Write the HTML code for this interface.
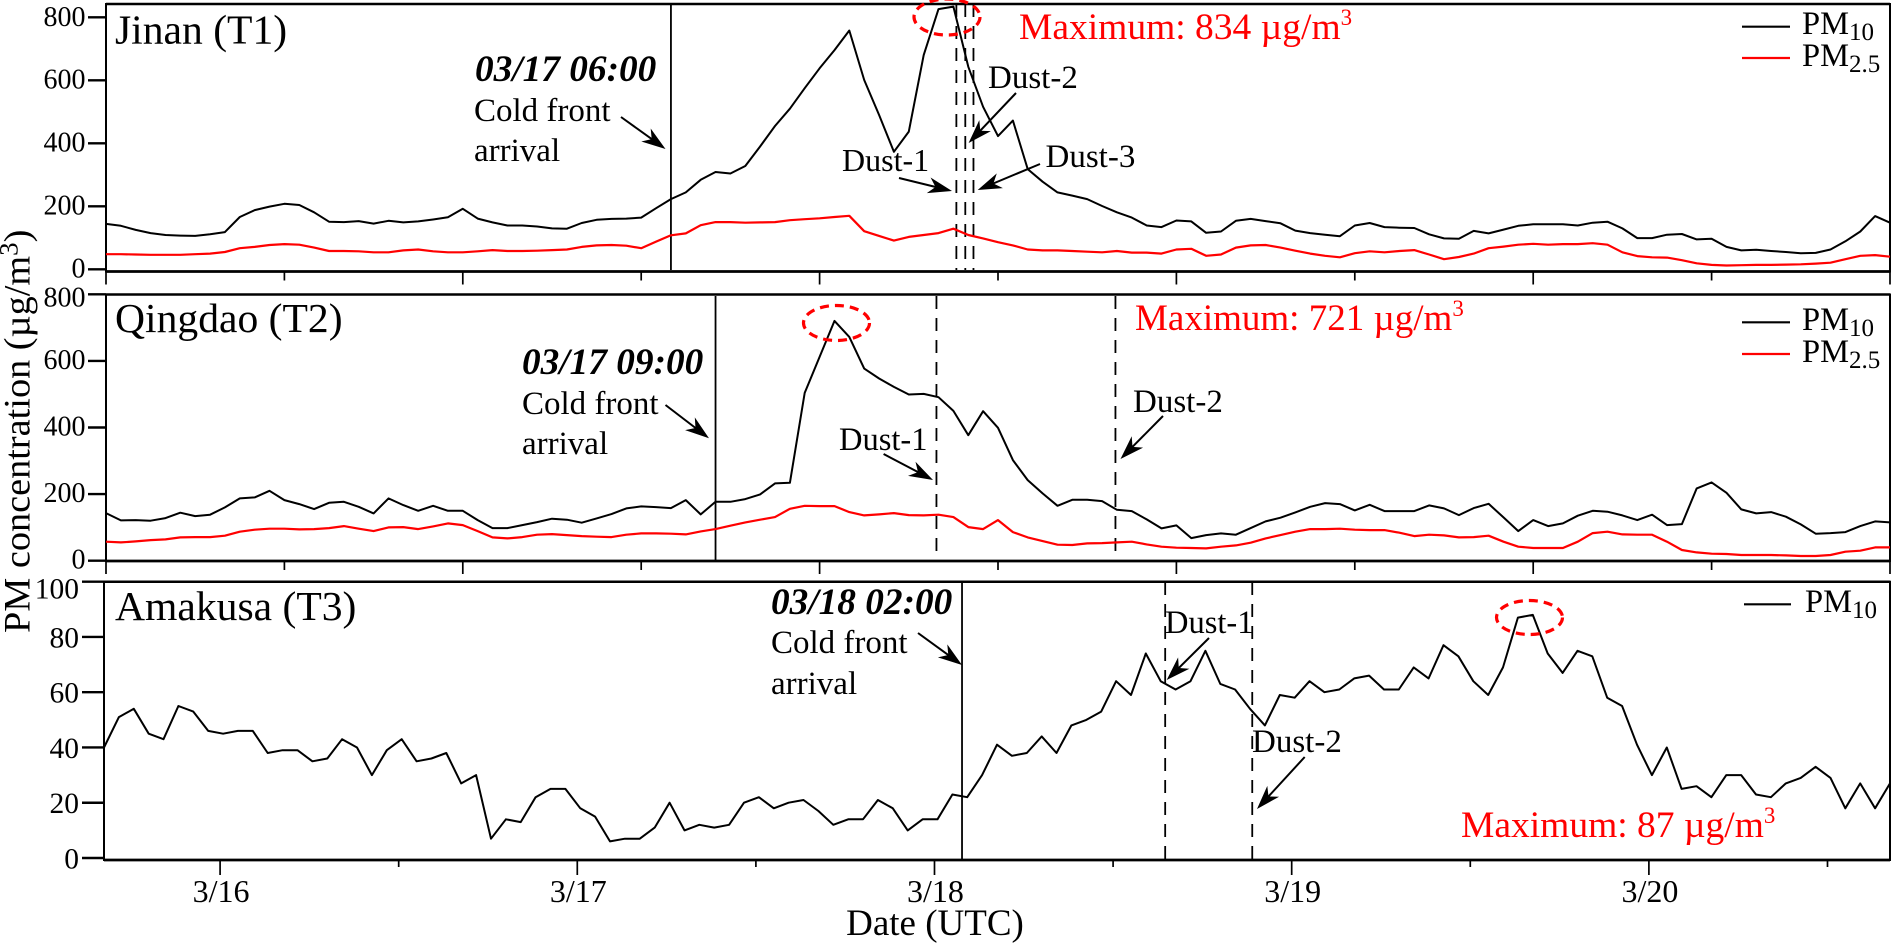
<!DOCTYPE html>
<html lang="en">
<head>
<meta charset="utf-8">
<title>PM concentration at Jinan, Qingdao and Amakusa</title>
<style>
html,body{margin:0;padding:0;background:#fff;}
svg{display:block;font-family:"Liberation Serif",serif;}
text{fill:#000;}
.red{fill:#f00;}
</style>
</head>
<body>
<svg id="chart" xmlns="http://www.w3.org/2000/svg" width="1893" height="945" viewBox="0 0 1893 945">
  <g id="axes-layer"></g>
  <g id="events-layer"></g>
  <path id="jinan-pm10" fill="none" stroke="#000" stroke-width="2" stroke-linejoin="round"/>
  <path id="jinan-pm25" fill="none" stroke="#f00" stroke-width="2.2" stroke-linejoin="round"/>
  <path id="qingdao-pm10" fill="none" stroke="#000" stroke-width="2" stroke-linejoin="round"/>
  <path id="qingdao-pm25" fill="none" stroke="#f00" stroke-width="2.2" stroke-linejoin="round"/>
  <path id="amakusa-pm10" fill="none" stroke="#000" stroke-width="2" stroke-linejoin="round"/>

  <!-- Panel titles -->
  <text x="115" y="43.5" font-size="41.6">Jinan (T1)</text>
  <text x="115" y="332" font-size="41.6">Qingdao (T2)</text>
  <text x="115" y="620" font-size="41.6">Amakusa (T3)</text>

  <!-- Cold front annotations -->
  <text x="475" y="81" font-size="37.3" font-weight="bold" font-style="italic">03/17 06:00</text>
  <text x="474" y="121" font-size="33">Cold front</text>
  <text x="474" y="161" font-size="33">arrival</text>
  <text x="522" y="374" font-size="37.3" font-weight="bold" font-style="italic">03/17 09:00</text>
  <text x="522" y="414" font-size="33">Cold front</text>
  <text x="522" y="454" font-size="33">arrival</text>
  <text x="771" y="614" font-size="37.3" font-weight="bold" font-style="italic">03/18 02:00</text>
  <text x="771" y="653" font-size="33">Cold front</text>
  <text x="771" y="694" font-size="33">arrival</text>

  <!-- Dust labels -->
  <text x="842" y="171" font-size="32">Dust-1</text>
  <text x="988" y="88" font-size="33">Dust-2</text>
  <text x="1045.5" y="167" font-size="33">Dust-3</text>
  <text x="839" y="450" font-size="32.5">Dust-1</text>
  <text x="1133" y="412" font-size="33">Dust-2</text>
  <text x="1165" y="633" font-size="32.5">Dust-1</text>
  <text x="1252" y="752" font-size="33">Dust-2</text>

  <!-- Maximum labels -->
  <text class="red" x="1019" y="39" font-size="37.5">Maximum: 834 µg/m<tspan font-size="23" dy="-14">3</tspan></text>
  <text class="red" x="1135" y="330" font-size="37">Maximum: 721 µg/m<tspan font-size="23" dy="-14">3</tspan></text>
  <text class="red" x="1461" y="837" font-size="37.5">Maximum: 87 µg/m<tspan font-size="23" dy="-14">3</tspan></text>

  <!-- Peak ellipses -->
  <ellipse cx="947" cy="17" rx="33" ry="18" fill="none" stroke="#f00" stroke-width="3.2" stroke-dasharray="9 6"/>
  <ellipse cx="836.5" cy="323" rx="33" ry="17.5" fill="none" stroke="#f00" stroke-width="3.2" stroke-dasharray="9 6"/>
  <ellipse cx="1529.5" cy="617.5" rx="33" ry="17" fill="none" stroke="#f00" stroke-width="3.2" stroke-dasharray="9 6"/>

  <!-- Legends -->
  <g>
    <line x1="1742" y1="26.7" x2="1790" y2="26.7" stroke="#000" stroke-width="2.2"/>
    <text x="1802" y="34" font-size="32.5">PM<tspan font-size="25" dy="6">10</tspan></text>
    <line x1="1742" y1="58" x2="1790" y2="58" stroke="#f00" stroke-width="2.2"/>
    <text x="1802" y="66" font-size="32.5">PM<tspan font-size="25" dy="6">2.5</tspan></text>
  </g>
  <g>
    <line x1="1742" y1="322.3" x2="1790" y2="322.3" stroke="#000" stroke-width="2.2"/>
    <text x="1802" y="330" font-size="32.5">PM<tspan font-size="25" dy="6">10</tspan></text>
    <line x1="1742" y1="354" x2="1790" y2="354" stroke="#f00" stroke-width="2.2"/>
    <text x="1802" y="362" font-size="32.5">PM<tspan font-size="25" dy="6">2.5</tspan></text>
  </g>
  <g>
    <line x1="1744" y1="604.3" x2="1791" y2="604.3" stroke="#000" stroke-width="2.2"/>
    <text x="1805" y="612" font-size="32.5">PM<tspan font-size="25" dy="6">10</tspan></text>
  </g>

  <!-- Axis titles -->
  <text transform="translate(29.5,633) rotate(-90) scale(1.035,1)" font-size="37">PM concentration (µg/m<tspan font-size="26" dy="-12">3</tspan><tspan dy="12">)</tspan></text>
  <text x="935" y="935" font-size="37" text-anchor="middle">Date (UTC)</text>

  <g id="arrows-layer"></g>
</svg>

<script>
const jinanPm10 = [144,138,125,115,109,107,106,111,118,166,188,199,208,204,181,151,150,153,145,154,149,152,158,165,192,161,149,139,139,136,130,129,147,157,160,161,164,194,223,244,284,309,304,328,390,455,510,575,638,696,758,601,490,373,437,680,826,834,643,516,423,472,318,278,244,234,223,201,181,164,139,134,155,152,116,120,154,160,153,146,123,115,110,105,139,147,134,132,131,111,98,97,122,114,126,138,143,143,143,139,148,151,130,99,99,110,112,95,97,71,60,62,58,55,51,52,63,89,120,169,148];
const jinanPm25 = [48,48,47,46,46,46,48,50,55,67,71,77,80,78,69,58,58,57,54,54,60,63,57,54,54,57,61,58,58,59,61,63,71,76,77,75,67,88,108,114,140,150,150,148,149,150,156,159,162,166,170,121,106,91,103,109,115,129,109,98,86,76,63,60,60,58,56,54,58,53,53,50,63,65,43,47,69,76,77,69,59,50,43,38,51,57,54,58,61,47,32,39,50,67,72,78,81,78,80,80,83,78,54,42,38,37,29,19,14,12,13,14,14,15,16,18,21,32,43,45,40];
const qingdaoPm10 = [143,121,122,120,128,144,134,138,160,187,190,210,182,170,155,174,177,162,142,187,167,150,165,150,150,122,98,98,107,116,126,123,114,127,140,157,163,161,158,182,139,177,177,185,199,232,234,504,612,720,672,577,547,522,499,501,491,450,377,449,399,302,242,202,165,183,183,179,153,149,124,97,106,68,77,82,78,98,118,129,145,162,173,170,151,168,149,149,149,166,157,137,158,171,130,89,122,104,112,135,150,147,136,122,138,107,110,217,235,204,154,142,146,132,109,81,83,86,104,118,115];
const qingdaoPm25 = [57,55,58,62,64,70,71,71,75,87,93,96,96,94,95,98,104,96,89,100,101,95,103,112,107,89,70,67,71,78,80,77,74,72,71,78,82,82,81,79,88,95,105,115,123,131,156,165,164,164,146,136,139,143,137,136,138,131,101,95,122,86,70,59,48,47,52,53,55,57,49,42,39,38,37,42,46,54,67,77,87,95,95,96,93,92,92,84,74,78,76,70,71,75,57,42,38,38,38,57,83,87,79,78,78,57,32,25,21,20,17,17,17,16,14,14,17,27,30,40,40];
const amakusaPm10 = [40,51,54,45,43,55,53,46,45,46,46,38,39,39,35,36,43,40,30,39,43,35,36,38,27,30,7,14,13,22,25,25,18,15,6,7,7,11,20,10,12,11,12,20,22,18,20,21,17,12,14,14,21,18,10,14,14,23,22,30,41,37,38,44,38,48,50,53,64,59,74,64,61,64,75,63,61,54,48,59,58,64,60,61,65,66,61,61,69,65,77,73,64,59,69,87,88,74,67,75,73,58,55,41,30,40,25,26,22,30,30,23,22,27,29,33,29,18,27,18,27];

const pmTicks = [0,200,400,600,800];
const dustTicks = [0,20,40,60,80,100];
const dateLabels = ['3/16','3/17','3/18','3/19','3/20'];

const jinanEvents = {front:38, dust:[57.2,57.8,58.35]};
const qingdaoEvents = {front:41, dust:[55.86,67.9]};
const amakusaEvents = {front:57.65, dust:[71.3,77.15]};

const panels = [
  {id:'jinan', left:106, right:1890, top:4, bottom:271.5, y0:269.3, yMax:800, yMaxPx:17.3, ticks:pmTicks, tickLeft:88, labelEnd:85.5, labelSize:28, labelDrop:8, topDrop:8.7, tickOffset:0, tickCount:11, majorLen:13, minorLen:9, events:jinanEvents, lineTop:4, lineBottom:270, series:[['jinan-pm10',jinanPm10],['jinan-pm25',jinanPm25]]},
  {id:'qingdao', left:106, right:1890, top:294.5, bottom:561, y0:560.7, yMax:800, yMaxPx:294.3, ticks:pmTicks, tickLeft:88, labelEnd:85.5, labelSize:28, labelDrop:8, topDrop:12, tickOffset:0, tickCount:11, majorEven:true, majorLen:13, minorLen:9, events:qingdaoEvents, lineTop:296, lineBottom:561, series:[['qingdao-pm10',qingdaoPm10],['qingdao-pm25',qingdaoPm25]]},
  {id:'amakusa', left:104, right:1890, top:581.7, bottom:860, y0:858, yMax:100, yMaxPx:581.7, ticks:dustTicks, tickLeft:82, labelEnd:79, labelSize:29.5, labelDrop:10.5, topDrop:17, tickOffset:7.8, tickCount:10, majorLen:15, minorLen:7, events:amakusaEvents, lineTop:582, lineBottom:860, series:[['amakusa-pm10',amakusaPm10]]}
];

const NS = 'http://www.w3.org/2000/svg';
const axesLayer = document.getElementById('axes-layer');
const eventsLayer = document.getElementById('events-layer');
const arrowsLayer = document.getElementById('arrows-layer');

function xScale(p, i){ return p.left + i*(p.right-p.left)/120; }
function yScale(p, v){ return p.y0 - v*(p.y0-p.yMaxPx)/p.yMax; }

function makeLine(x1,y1,x2,y2,w,parent){
  const el = document.createElementNS(NS,'line');
  el.setAttribute('x1',x1);
  el.setAttribute('y1',y1);
  el.setAttribute('x2',x2);
  el.setAttribute('y2',y2);
  el.setAttribute('stroke','#000');
  el.setAttribute('stroke-width',w);
  parent.appendChild(el);
  return el;
}

panels.forEach(function(p){
  p.series.forEach(function(s){
    const d = s[1].map(function(v,i){ return (i?'L':'M')+xScale(p,i).toFixed(1)+' '+yScale(p,v).toFixed(1); }).join('');
    document.getElementById(s[0]).setAttribute('d',d);
  });

  const spine = document.createElementNS(NS,'rect');
  
  
  spine.setAttribute('x',p.left);
  spine.setAttribute('y',p.top);
  spine.setAttribute('width',p.right-p.left);
  spine.setAttribute('height',p.bottom-p.top);
  spine.setAttribute('fill','none');
  spine.setAttribute('stroke','#000');
  spine.setAttribute('stroke-width','2');
  axesLayer.appendChild(spine);

  const topEdge = makeLine(p.left,p.top,p.right,p.top,2.5,axesLayer);
  
  
  const bottomEdge = makeLine(p.left,p.bottom,p.right,p.bottom,2.8,axesLayer);
  
  

  p.ticks.forEach(function(t){
    const y = yScale(p,t);
    const tick = makeLine(p.tickLeft,y,p.left,y,2.4,axesLayer);
    
    
    const label = document.createElementNS(NS,'text');
    
    
    label.setAttribute('x',p.labelEnd);
    label.setAttribute('y',y+(t===p.yMax?p.topDrop:p.labelDrop));
    label.setAttribute('font-size',p.labelSize);
    label.setAttribute('text-anchor','end');
    label.textContent = t;
    axesLayer.appendChild(label);
  });

  for(let k=0;k<p.tickCount;k++){
    const x = xScale(p,p.tickOffset+12*k);
    const major = (k%2===0);
    const tick = makeLine(x,p.bottom,x,p.bottom+(major?p.majorLen:p.minorLen),1.7,axesLayer);
    
    
    if(p.id==='amakusa' && major){
      const label = document.createElementNS(NS,'text');
      
      
      label.setAttribute('x',x+1);
      label.setAttribute('y',902);
      label.setAttribute('font-size','32');
      label.setAttribute('text-anchor','middle');
      label.textContent = dateLabels[k/2];
      axesLayer.appendChild(label);
    }
  }

  const fx = xScale(p,p.events.front);
  const frontLine = makeLine(fx,p.lineTop,fx,p.lineBottom,1.8,eventsLayer);
  
  
  p.events.dust.forEach(function(e){
    const dx = xScale(p,e);
    const dustLine = makeLine(dx,p.lineTop,dx,p.lineBottom,1.8,eventsLayer);
    dustLine.setAttribute('stroke-dasharray','13 9');
    
    
  });
});

const arrowSegments = [
  [621,117,665.5,149],[899,178,952,191],[1016,93,968.6,143],[1040,164,977.7,190],
  [665.5,405,709,438.3],[883.6,454,933,480],[1163,416,1120.5,459],
  [918,633,962,665],[1209,638,1166.7,680],[1304.7,757,1257,809]
];
arrowSegments.forEach(function(a){
  const dx=a[2]-a[0], dy=a[3]-a[1], len=Math.hypot(dx,dy), ux=dx/len, uy=dy/len, nx=-uy, ny=ux;
  const shaft = makeLine(a[0],a[1],a[2]-ux*12,a[3]-uy*12,2,arrowsLayer);
  
  
  const head = document.createElementNS(NS,'polygon');
  const L=24, W=8, N=17;
  const pts=[[a[2],a[3]],[a[2]-ux*L+nx*W,a[3]-uy*L+ny*W],[a[2]-ux*N,a[3]-uy*N],[a[2]-ux*L-nx*W,a[3]-uy*L-ny*W]];
  head.setAttribute('points',pts.map(function(q){return q[0].toFixed(1)+','+q[1].toFixed(1);}).join(' '));
  head.setAttribute('fill','#000');
  
  
  arrowsLayer.appendChild(head);
});
</script>
</body>
</html>
